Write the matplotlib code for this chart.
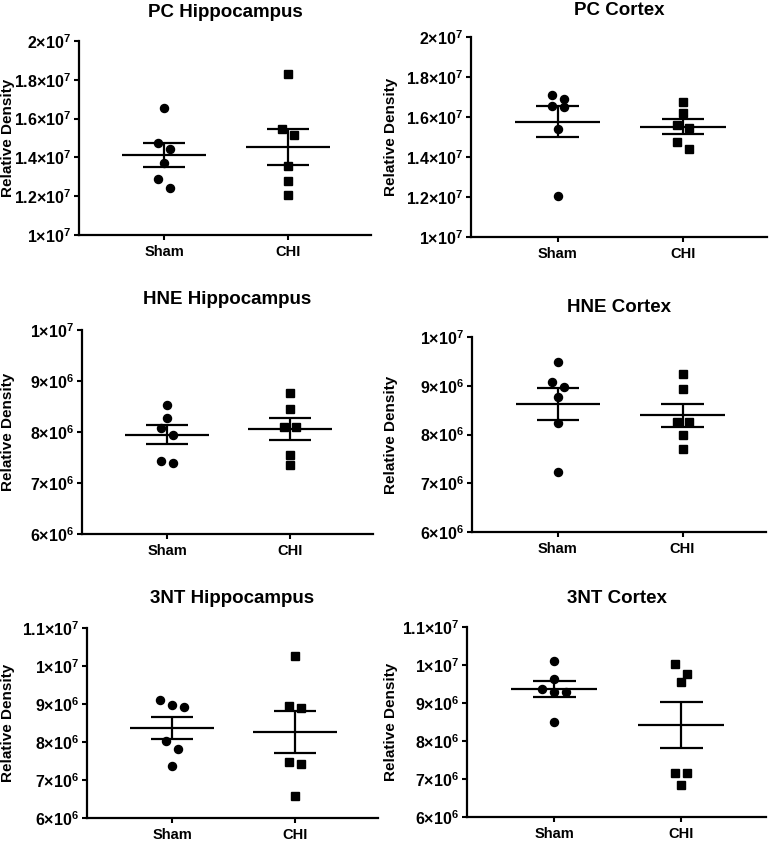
import matplotlib
matplotlib.use('Agg')
import matplotlib.pyplot as plt
import numpy as np
from matplotlib.ticker import FuncFormatter
from matplotlib.transforms import blended_transform_factory

plt.rcParams['font.family'] = ['Liberation Sans', 'DejaVu Sans']
plt.rcParams['font.weight'] = 'bold'
plt.rcParams['mathtext.fontset'] = 'custom'
plt.rcParams['mathtext.rm'] = 'Liberation Sans:bold'
plt.rcParams['mathtext.bf'] = 'Liberation Sans:bold'
plt.rcParams['mathtext.it'] = 'Liberation Sans:bold:italic'
plt.rcParams['mathtext.default'] = 'rm'

# data (units of 1e6)
groups = ['Sham', 'CHI']
titles = ['PC Hippocampus', 'PC Cortex', 'HNE Hippocampus',
          'HNE Cortex', '3NT Hippocampus', '3NT Cortex']

pc_hip_sham = [16.57, 14.72, 14.41, 13.72, 12.88, 12.42]
pc_hip_chi = [18.28, 15.47, 15.18, 13.55, 12.76, 12.06]
pc_ctx_sham = [17.12, 16.92, 16.57, 16.49, 15.42, 12.04]
pc_ctx_chi = [16.77, 16.19, 15.59, 15.45, 14.73, 14.40]
hne_hip_sham = [8.53, 8.28, 8.08, 7.94, 7.44, 7.40]
hne_hip_chi = [8.76, 8.46, 8.10, 8.10, 7.55, 7.35]
hne_ctx_sham = [9.48, 9.07, 8.98, 8.76, 8.24, 7.23]
hne_ctx_chi = [9.24, 8.93, 8.26, 8.26, 7.98, 7.70]
nt_hip_sham = [9.11, 8.97, 8.93, 8.03, 7.82, 7.38]
nt_hip_chi = [10.27, 8.96, 8.89, 7.47, 7.42, 6.59]
nt_ctx_sham = [10.11, 9.63, 9.36, 9.30, 9.28, 8.51]
nt_ctx_chi = [10.02, 9.76, 9.56, 7.17, 7.17, 6.83]

pc_ticks = [10, 12, 14, 16, 18, 20]
hne_ticks = [6, 7, 8, 9, 10]
nt_ticks = [6, 7, 8, 9, 10, 11]

panels = [
    (pc_hip_sham, pc_hip_chi, pc_ticks),
    (pc_ctx_sham, pc_ctx_chi, pc_ticks),
    (hne_hip_sham, hne_hip_chi, hne_ticks),
    (hne_ctx_sham, hne_ctx_chi, hne_ticks),
    (nt_hip_sham, nt_hip_chi, nt_ticks),
    (nt_ctx_sham, nt_ctx_chi, nt_ticks),
]

# axes boxes in pixels: left, top, right, bottom
boxes = [
    (79, 41, 371, 235), (471, 37, 767, 237),
    (82, 330, 373, 534), (472, 337, 766, 532),
    (87, 628, 378, 818), (467, 627, 766, 817),
]
title_pads = [17, 16, 19, 18, 18, 17]
W, H = 771, 842


def sci(v, pos=None):
    v = v * 1e6
    e = int(np.floor(np.log10(v) + 1e-9))
    m = v / 10 ** e
    return r'$%g{\times}10^{%d}$' % (round(m, 2), e)


def swarm(ax, vals, step_px=6, row_px=10):
    # points within about a marker height share a row and are spread sideways
    p0 = ax.transData.transform((0, 0))
    p1 = ax.transData.transform((1, 1))
    px_x, px_y = p1[0] - p0[0], p1[1] - p0[1]
    vals = np.asarray(vals)
    order = np.argsort(vals)[::-1]
    rows = []
    for i in order:
        if rows and (vals[rows[-1][0]] - vals[i]) * px_y < row_px:
            rows[-1].append(i)
        else:
            rows.append([i])
    offs = np.zeros(len(vals))
    for row in rows:
        n = len(row)
        for k, i in enumerate(row):
            offs[i] = (k - (n - 1) / 2) * 2 * step_px / px_x
    return offs


fig = plt.figure(figsize=(W / 100, H / 100), dpi=100)

for (sham, chi, ticks), box, title, tp in zip(panels, boxes, titles, title_pads):
    l, t, r, b = box
    ax = fig.add_axes([l / W, 1 - b / H, (r - l) / W, (b - t) / H])
    ax.set_xlim(0.31, 2.67)
    ax.set_ylim(ticks[0], ticks[-1])
    ax.set_yticks(ticks)
    ax.yaxis.set_major_formatter(FuncFormatter(sci))
    ax.set_xticks([1, 2])
    ax.set_xticklabels(groups)
    for s in ['top', 'right']:
        ax.spines[s].set_visible(False)
    for s in ['left', 'bottom']:
        ax.spines[s].set_linewidth(1.6)
    ax.tick_params(direction='out', length=3.5, width=1.5)
    ax.tick_params(axis='x', pad=4, labelsize=10.5)
    ax.tick_params(axis='y', pad=2, labelsize=11.5)
    ax.set_title(title, fontsize=13.5, fontweight='bold', pad=tp)
    ax.set_ylabel('Relative Density', fontsize=11, fontweight='bold')
    xl = 15 / W if l < 300 else 398 / W
    ax.yaxis.set_label_coords(xl, 0.5, transform=blended_transform_factory(fig.transFigure, ax.transAxes))

    for xc, vals, mk, ms in [(1, sham, 'o', 5.8), (2, chi, 's', 5.4)]:
        vals = np.asarray(vals)
        ax.plot(xc + swarm(ax, vals), vals, linestyle='none', marker=mk,
                markersize=ms, color='black', clip_on=False, zorder=3)
        m = vals.mean()
        sem = vals.std(ddof=1) / np.sqrt(len(vals))
        ax.hlines(m, xc - 0.34, xc + 0.34, color='black', linewidth=1.6)
        ax.hlines([m - sem, m + sem], xc - 0.17, xc + 0.17, color='black', linewidth=1.6)
        ax.vlines(xc, m - sem, m + sem, color='black', linewidth=1.6)

fig.savefig('out.png', dpi=100)
